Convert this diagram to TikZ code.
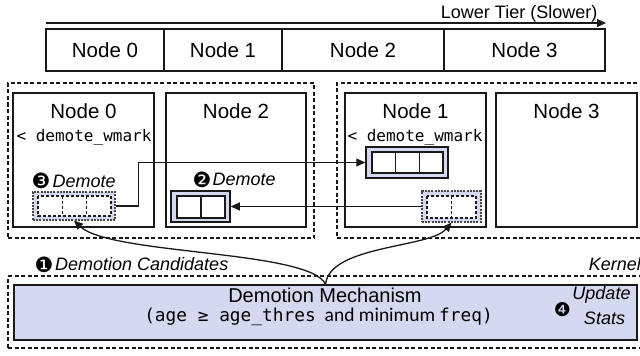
\documentclass[tikz,border=0pt]{standalone}
\usepackage{fontspec}
\setmainfont{Liberation Sans}
\newfontfamily\monof{DejaVu Sans Mono}
\newfontfamily\carl{Carlito}
\newfontfamily\dvs{DejaVu Sans}
\usetikzlibrary{arrows.meta}
\definecolor{lav}{RGB}{213,217,240}
\definecolor{ink}{RGB}{25,25,25}
\tikzset{
  arr/.style={draw=ink, line width=1.3pt, -{Triangle[length=9pt,width=8pt]}},
  cellbox/.style={draw=ink, line width=1.5pt, inner sep=0pt, font=\fontsize{20.5}{24}\selectfont},
  grp/.style={draw=ink, line width=1.3pt, dash pattern=on 4pt off 2.5pt, inner sep=0pt},
  cand/.style={draw=ink!80, fill=lav, line width=1.1pt, dash pattern=on 2pt off 1.2pt, inner sep=0pt},
  sbox/.style={draw=ink, fill=lav, line width=1.5pt, inner sep=0pt},
  cellD/.style={draw=ink, fill=white, line width=1.2pt, dash pattern=on 3pt off 2pt},
  cellS/.style={draw=ink, fill=white, line width=1.4pt},
  lblN/.style={inner sep=0pt, font=\fontsize{20.5}{24}\selectfont},
  lblM/.style={inner sep=0pt, font=\fontsize{16}{18}\monof},
  lblI/.style={inner sep=0pt, font=\fontsize{18}{21}\selectfont\itshape},
  lblS/.style={inner sep=0pt, font=\fontsize{18}{21}\selectfont},
  num/.style={inner sep=0pt, font=\fontsize{21}{24}\dvs},
}
\begin{document}
\begin{tikzpicture}[x=1pt,y=-1pt]
\useasboundingbox (0,0) rectangle (640,356);
% ---- top tier row
\coordinate (ta) at (46,23);
\coordinate (tb) at (606,23);
\draw[arr] (ta) -- (tb);
\node[lblS, anchor=base east] (tier) at (597.5,18.5) {Lower Tier (Slower)};
\node[cellbox, minimum width=118, minimum height=42] (t0) at (105,50) {Node 0};
\node[cellbox, minimum width=118, minimum height=42] (t1) at (223,50) {Node 1};
\node[cellbox, minimum width=162, minimum height=42] (t2) at (363,50) {Node 2};
\node[cellbox, minimum width=161, minimum height=42] (t3) at (524.5,50) {Node 3};
% ---- socket groups
\node[grp, minimum width=306, minimum height=155] (gL) at (161,160.5) {};
\node[grp, minimum width=313, minimum height=155] (gR) at (493.5,160.5) {};
\node[cellbox, minimum width=141, minimum height=134] (n0) at (83.5,160) {};
\node[cellbox, minimum width=140, minimum height=134] (n2) at (236,160) {};
\node[cellbox, minimum width=141, minimum height=134] (n1) at (415.5,160) {};
\node[cellbox, minimum width=141, minimum height=134] (n3) at (566.5,160) {};
\node[lblN, anchor=base] (n0l) at (83.5,118) {Node 0};
\node[lblN, anchor=base] (n2l) at (236,118) {Node 2};
\node[lblN, anchor=base] (n1l) at (415.5,118) {Node 1};
\node[lblN, anchor=base] (n3l) at (566.5,118) {Node 3};
\node[lblM, anchor=base] (w0) at (84,141) {< demote\_wmark};
\node[lblM, anchor=base] (w1) at (415,141) {< demote\_wmark};
% ---- demote labels
\node[num] (k3) at (41,181) {❸};
\node[lblI, anchor=base west] (d0) at (52.5,187) {Demote};
\node[num] (k2) at (202,179.5) {❷};
\node[lblI, anchor=base west] (d2) at (212.5,185) {Demote};
% ---- page boxes
\node[cand, minimum width=82, minimum height=28] (c0) at (74,206) {};
\draw[cellD] (38,196) rectangle (111,216);
\draw[ink, line width=1.2pt, dash pattern=on 3pt off 2pt] (62.3,196) -- (62.3,216) (86.7,196) -- (86.7,216);
\node[cand, minimum width=59, minimum height=31] (c1) at (451.5,206.5) {};
\draw[cellD] (427,196) rectangle (476,218);
\draw[ink, line width=1.2pt, dash pattern=on 3pt off 2pt] (451.5,196) -- (451.5,218);
\node[sbox, minimum width=82, minimum height=31] (b1) at (407,162.5) {};
\draw[cellS] (372,152) rectangle (443,173);
\draw[ink, line width=1.4pt] (395.7,152) -- (395.7,173) (419.3,152) -- (419.3,173);
\node[sbox, minimum width=59, minimum height=31] (b2) at (200.5,206.5) {};
\draw[cellS] (177,196) rectangle (225,218);
\draw[ink, line width=1.4pt] (201,196) -- (201,218);
% ---- migration arrows
\draw[arr] (c0.east) -- ++(23,0) |- (b1.west);
\draw[arr] (c1.west) -- (b2.east);
% ---- kernel
\node[grp, minimum width=642, minimum height=72] (kern) at (329,312) {};
\node[sbox, minimum width=623, minimum height=55] (mech) at (325.5,312.5) {};
\node[lblN, font=\fontsize{20}{24}\selectfont, anchor=base] (mt) at (325,302) {Demotion Mechanism};
\node[inner sep=0pt, anchor=base] (mt2) at (318.5,321.5)
  {{\fontsize{17.8}{20}\monof(age ≥ age\_thres}\hspace{9pt}{\fontsize{19.5}{22}\carl and minimum}\hspace{4pt}{\fontsize{17.8}{20}\monof freq)}};
\node[num] (k1) at (44,265) {❶};
\node[lblI, anchor=base west] (dc) at (55,270) {Demotion Candidates};
\node[lblI, anchor=base east] (kl) at (641,270) {Kernel};
\node[num, font=\fontsize{19}{21}\dvs] (k4) at (562.5,309.5) {❹};
\node[lblI, anchor=base] (up) at (601.5,299.5) {Update};
\node[lblI, anchor=base] (st) at (604.5,324.5) {Stats};
% ---- candidate selection curves
\draw[arr] (mech.north) .. controls (310,250) and (110,255) .. (c0.south);
\draw[arr] (mech.north) .. controls (330,245) and (430,248) .. (c1.south);
\end{tikzpicture}
\end{document}
